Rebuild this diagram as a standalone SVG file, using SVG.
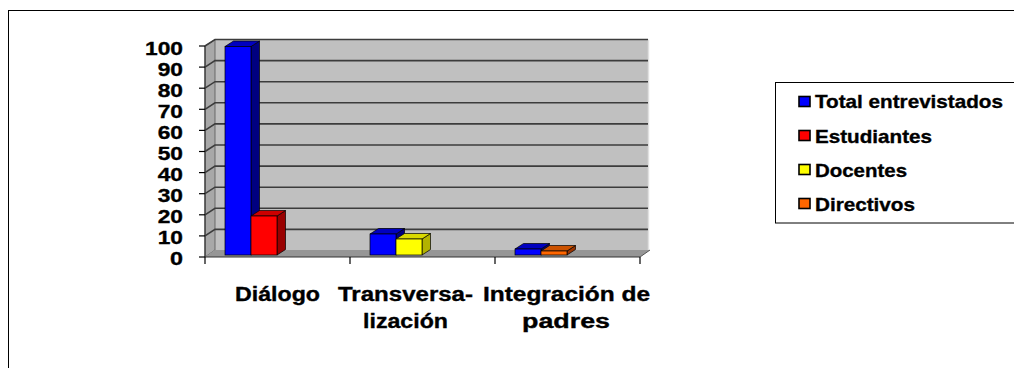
<svg xmlns="http://www.w3.org/2000/svg" width="1014" height="368" viewBox="0 0 1014 368">
<style>
.t{font-family:"Liberation Sans",Arial,sans-serif;font-weight:bold;fill:#000;stroke:#000;stroke-width:0.35}
.ax{font-size:19px;text-anchor:end}
.cat{font-size:20px}
.lg{font-size:18.5px}
.grid{stroke:#3c3c3c;stroke-width:1.6;fill:none}
.tick{stroke:#000;stroke-width:1.2}
.sw{stroke:#000;stroke-width:1.6}
</style>
<rect x="8.5" y="10.5" width="1010" height="364" fill="#fff" stroke="#000" stroke-width="1"/>
<g id="plot">
<rect x="215" y="39.5" width="433" height="210.5" fill="#c0c0c0"/>
<line x1="648.5" y1="39.5" x2="648.5" y2="250" stroke="#e0e0e0" stroke-width="1.5"/>
<polygon points="205,46 215,39.5 215,250 205,257" fill="#a8a8a8" stroke="#555" stroke-width="0.8"/>
<polygon points="205,257 215,250 650,250 640,257" fill="#969696"/>
<line x1="205" y1="257" x2="640" y2="257" stroke="#333" stroke-width="1"/>
<line x1="640" y1="257" x2="650" y2="250" stroke="#555" stroke-width="1"/>
<g id="gridlines">
<polyline class="grid" points="205,46 215,39.5 648,39.5" stroke="#707070"/>
<polyline class="grid" points="205,67.1 215,60.6 648,60.6"/>
<polyline class="grid" points="205,88.2 215,81.7 648,81.7"/>
<polyline class="grid" points="205,109.3 215,102.8 648,102.8"/>
<polyline class="grid" points="205,130.4 215,123.9 648,123.9"/>
<polyline class="grid" points="205,151.5 215,145 648,145"/>
<polyline class="grid" points="205,172.6 215,166.1 648,166.1"/>
<polyline class="grid" points="205,193.7 215,187.2 648,187.2"/>
<polyline class="grid" points="205,214.8 215,208.3 648,208.3"/>
<polyline class="grid" points="205,235.9 215,229.4 648,229.4"/>
</g>
<g id="axes">
<line x1="205" y1="46" x2="205" y2="257" stroke="#333" stroke-width="1.2"/>
<line class="tick" x1="199" y1="46" x2="205" y2="46"/>
<line class="tick" x1="199" y1="67.1" x2="205" y2="67.1"/>
<line class="tick" x1="199" y1="88.2" x2="205" y2="88.2"/>
<line class="tick" x1="199" y1="109.3" x2="205" y2="109.3"/>
<line class="tick" x1="199" y1="130.4" x2="205" y2="130.4"/>
<line class="tick" x1="199" y1="151.5" x2="205" y2="151.5"/>
<line class="tick" x1="199" y1="172.6" x2="205" y2="172.6"/>
<line class="tick" x1="199" y1="193.7" x2="205" y2="193.7"/>
<line class="tick" x1="199" y1="214.8" x2="205" y2="214.8"/>
<line class="tick" x1="199" y1="235.9" x2="205" y2="235.9"/>
<line class="tick" x1="199" y1="257" x2="205" y2="257"/>
<line class="tick" x1="205" y1="257" x2="205" y2="264"/>
<line class="tick" x1="350" y1="257" x2="350" y2="264"/>
<line class="tick" x1="495" y1="257" x2="495" y2="264"/>
<line class="tick" x1="640" y1="257" x2="640" y2="264"/>
</g>
</g>
<g id="bars" stroke="#000" stroke-width="0.7">
<g id="bar-dialogo-total">
<polygon points="251,46.5 259.5,41 259.5,249.5 251,255" fill="#000080"/>
<polygon points="225,46.5 233.5,41 259.5,41 251,46.5" fill="#0000c0"/>
<rect x="225" y="46.5" width="26" height="208.5" fill="#0000ff"/>
</g>
<g id="bar-dialogo-est">
<polygon points="277,216 285.5,210.5 285.5,249.5 277,255" fill="#990000"/>
<polygon points="251,216 259.5,210.5 285.5,210.5 277,216" fill="#cc0000"/>
<rect x="251" y="216" width="26" height="39" fill="#ff0000"/>
</g>
<g id="bar-trans-total">
<polygon points="396,234 404.5,228.5 404.5,249.5 396,255" fill="#000080"/>
<polygon points="370,234 378.5,228.5 404.5,228.5 396,234" fill="#0000c0"/>
<rect x="370" y="234" width="26" height="21" fill="#0000ff"/>
</g>
<g id="bar-trans-doc">
<polygon points="422,239 430.5,233.5 430.5,249.5 422,255" fill="#b3b300"/>
<polygon points="396,239 404.5,233.5 430.5,233.5 422,239" fill="#d9d900"/>
<rect x="396" y="239" width="26" height="16" fill="#ffff00"/>
</g>
<g id="bar-integ-total">
<polygon points="541,249 549.5,243.5 549.5,249.5 541,255" fill="#000080"/>
<polygon points="515,249 523.5,243.5 549.5,243.5 541,249" fill="#0000c0"/>
<rect x="515" y="249" width="26" height="6" fill="#0000ff"/>
</g>
<g id="bar-integ-dir">
<polygon points="567,251 575.5,245.5 575.5,249.5 567,255" fill="#993300"/>
<polygon points="541,251 549.5,245.5 575.5,245.5 567,251" fill="#cc5200"/>
<rect x="541" y="251" width="26" height="4" fill="#ff6600"/>
</g>
</g>
<g id="yaxis-labels">
<text class="t ax" x="183" y="54.5" textLength="38" lengthAdjust="spacingAndGlyphs">100</text>
<text class="t ax" x="183" y="75.6" textLength="25.3" lengthAdjust="spacingAndGlyphs">90</text>
<text class="t ax" x="183" y="96.7" textLength="25.3" lengthAdjust="spacingAndGlyphs">80</text>
<text class="t ax" x="183" y="117.8" textLength="25.3" lengthAdjust="spacingAndGlyphs">70</text>
<text class="t ax" x="183" y="138.9" textLength="25.3" lengthAdjust="spacingAndGlyphs">60</text>
<text class="t ax" x="183" y="160" textLength="25.3" lengthAdjust="spacingAndGlyphs">50</text>
<text class="t ax" x="183" y="181.1" textLength="25.3" lengthAdjust="spacingAndGlyphs">40</text>
<text class="t ax" x="183" y="202.2" textLength="25.3" lengthAdjust="spacingAndGlyphs">30</text>
<text class="t ax" x="183" y="223.3" textLength="25.3" lengthAdjust="spacingAndGlyphs">20</text>
<text class="t ax" x="183" y="244.4" textLength="25.3" lengthAdjust="spacingAndGlyphs">10</text>
<text class="t ax" x="183" y="265" textLength="13" lengthAdjust="spacingAndGlyphs">0</text>
</g>
<g id="category-labels">
<text class="t cat" x="235" y="301" textLength="85" lengthAdjust="spacingAndGlyphs">Diálogo</text>
<text class="t cat" x="338" y="301" textLength="135" lengthAdjust="spacingAndGlyphs">Transversa-</text>
<text class="t cat" x="363" y="328" textLength="85" lengthAdjust="spacingAndGlyphs">lización</text>
<text class="t cat" x="483" y="301" textLength="167" lengthAdjust="spacingAndGlyphs">Integración de</text>
<text class="t cat" x="522" y="328" textLength="88" lengthAdjust="spacingAndGlyphs">padres</text>
</g>
<g id="legend">
<rect x="775.5" y="82.5" width="260" height="140.5" fill="#fff" stroke="#000" stroke-width="1"/>
<rect class="sw" x="799" y="96.5" width="11" height="10" fill="#0000ff"/>
<rect class="sw" x="799" y="130.5" width="11" height="10" fill="#ff0000"/>
<rect class="sw" x="799" y="164.5" width="11" height="10" fill="#ffff00"/>
<rect class="sw" x="799" y="198.5" width="11" height="10" fill="#ff6600"/>
<text class="t lg" x="815" y="108" textLength="188" lengthAdjust="spacingAndGlyphs">Total entrevistados</text>
<text class="t lg" x="815" y="142.5" textLength="117" lengthAdjust="spacingAndGlyphs">Estudiantes</text>
<text class="t lg" x="815" y="176.5" textLength="92" lengthAdjust="spacingAndGlyphs">Docentes</text>
<text class="t lg" x="815" y="210.5" textLength="100" lengthAdjust="spacingAndGlyphs">Directivos</text>
</g>
</svg>
